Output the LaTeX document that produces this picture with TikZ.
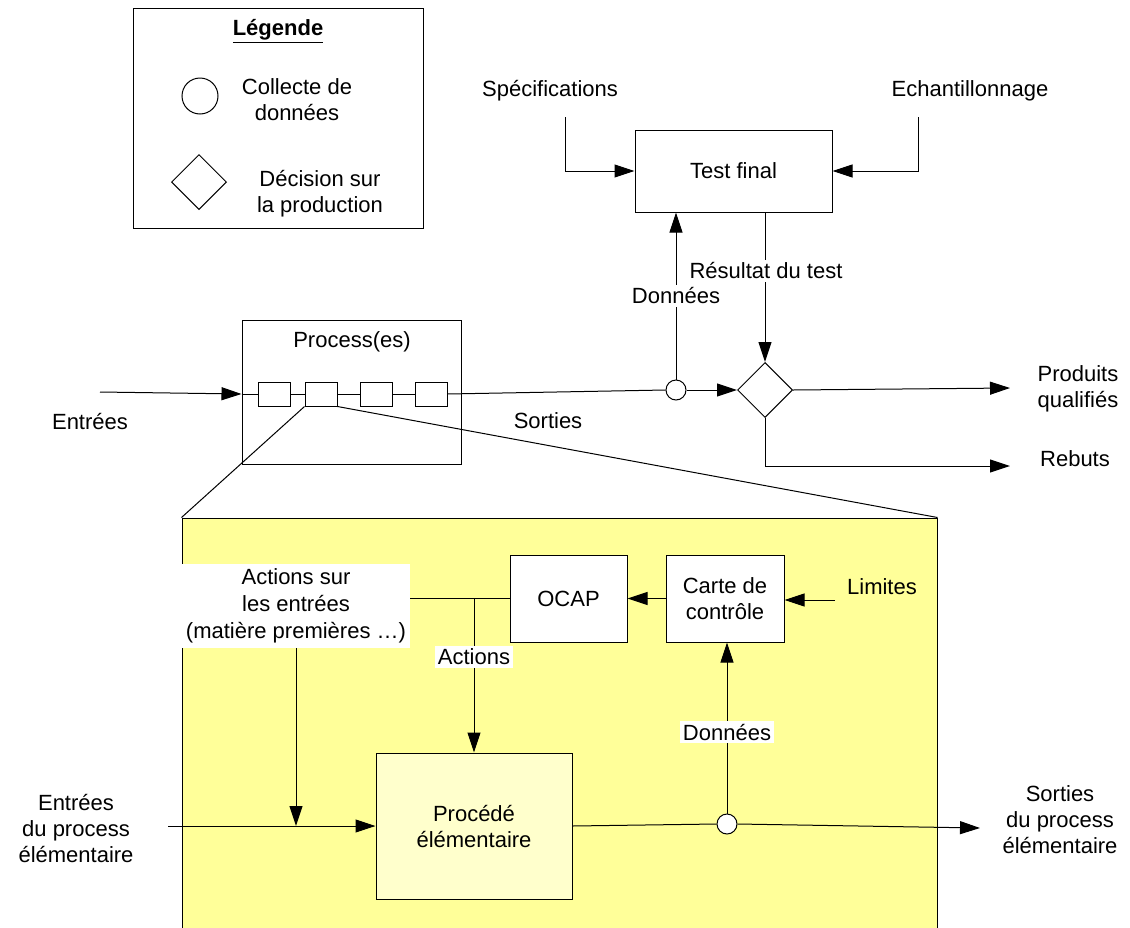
\documentclass[tikz,border=0pt]{standalone}
\usepackage{fontspec}
\setmainfont{Liberation Sans}
\usetikzlibrary{shapes.geometric,arrows.meta}
\definecolor{ylw}{RGB}{255,255,153}
\definecolor{ylwlight}{RGB}{255,255,204}
\begin{document}
\begin{tikzpicture}[x=1pt,y=-1pt,
  every node/.style={font=\fontsize{22}{26}\selectfont, align=center, inner sep=0pt},
  line/.style={line width=1pt},
  arr/.style={line width=1pt, -{Triangle[length=20pt,width=13pt]}},
  box/.style={draw, line width=1pt, rectangle},
  smallbox/.style={draw, line width=1pt, fill=white, minimum width=32pt, minimum height=24pt},
  dot/.style={draw, line width=1pt, circle, fill=white, minimum size=20pt},
  dec/.style={draw, line width=1pt, diamond, fill=white, minimum width=55pt, minimum height=55pt},
  whitelab/.style={fill=white, inner sep=3pt}
]
\useasboundingbox (0,0) rectangle (1130,927);
\fill[white] (0,0) rectangle (1130,927);

% Legend
\node[box, minimum width=290pt, minimum height=220pt] (legend) at (278,118) {};
\node (legtitle) at (278,31) {\textbf{\underline{Légende}}};
\node[draw, line width=1pt, circle, minimum size=36pt] (legcirc) at (200,96) {};
\node (legcirctxt) at (297,100) {Collecte de\\données};
\node[draw, line width=1pt, diamond, minimum width=55pt, minimum height=55pt] (legdiam) at (199,182) {};
\node (legdiamtxt) at (320,194) {Décision sur\\la production};

% Test final
\node[box, minimum width=197pt, minimum height=82pt] (test) at (733.5,171) {Test final};
\node (spec) at (550,91) {Spécifications};
\node (echan) at (970,91) {Echantillonnage};
\coordinate (specend) at (565,117);
\coordinate (echanend) at (918,117);
\draw[arr] (specend) |- (test.west);
\draw[arr] (echanend) |- (test.east);

% Process box
\node[box, minimum width=219pt, minimum height=144pt] (proc) at (351.5,392) {};
\node (proctitle) at (352,342) {Process(es)};
\node[smallbox] (p1) at (274,394) {};
\node[smallbox] (p2) at (321,394) {};
\node[smallbox] (p3) at (376,394) {};
\node[smallbox] (p4) at (431,394) {};
\draw[line] (p1) -- (p2) -- (p3) -- (p4);
\coordinate (ein) at (100,392);
\draw[arr] (ein) -- (proc.west |- p1.west);
\draw[line] (proc.west |- p1.west) -- (p1.west);
\node (entrees) at (90,422) {Entrées};
\node (sorties) at (548,421) {Sorties};

% Data collection and decision
\node[dot] (c1) at (676,390) {};
\node[dec] (d1) at (765,390) {};
\draw[line] (p4.east) -- (c1.west);
\draw[arr] (c1.east) -- (d1.west);
\draw[arr] (c1.north) -- (c1.north |- test.south);
\draw[arr] (d1.north |- test.south) -- (d1.north);
\node[whitelab] (donnees1) at (676,296) {Données};
\node[whitelab] (resultat) at (766,271) {Résultat du test};
\coordinate (prodend) at (1010,388);
\coordinate (rebend) at (1010,466);
\draw[arr] (d1.east) -- (prodend);
\draw[arr] (d1.south) |- (rebend);
\node (produits) at (1078,389) {Produits\\qualifiés};
\node (rebuts) at (1075,459) {Rebuts};

% Zoomed area
\node[draw, line width=1pt, fill=ylw, minimum width=755pt, minimum height=422pt] (zoom) at (559.5,729) {};
\draw[line] (p2.south west) -- (zoom.north west);
\draw[line] (p2.south east) -- (zoom.north east);

\node[box, fill=white, minimum width=117pt, minimum height=87pt] (ocap) at (568.5,598.5) {OCAP};
\node[box, fill=white, minimum width=118pt, minimum height=87pt] (carte) at (725,598.5) {Carte de\\contrôle};
\node (limites) at (882,587) {Limites};
\coordinate (limend) at (835,600);
\draw[arr] (limend) -- (carte.east |- limend);
\draw[arr] (carte.west) -- (ocap.east);

\node[fill=white, minimum width=228pt, minimum height=84pt, font=\fontsize{22}{27}\selectfont] (actlab) at (296,606) {Actions sur\\les entrées\\(matière premières …)};
\node[box, fill=ylwlight, minimum width=196pt, minimum height=146pt] (proc2) at (474,826) {Procédé\\élémentaire};
\draw[line] (ocap.west) -- (actlab.east |- ocap.west);
\draw[arr] (ocap.west -| proc2.north) -- (proc2.north);
\node[whitelab] (actions) at (474,657) {Actions};
\coordinate (ein2) at (168,826);
\draw[arr] (ein2) -- (proc2.west);
\draw[arr] (actlab.south) -- (actlab.south |- proc2.west);

\node[dot] (c2) at (727,824) {};
\draw[line] (proc2.east) -- (c2.west);
\coordinate (sout2) at (980,828);
\draw[arr] (c2.east) -- (sout2);
\draw[arr] (c2.north) -- (c2.north |- carte.south);
\node[whitelab] (donnees2) at (727,732) {Données};

\node (entrees2) at (76,828) {Entrées\\du process\\élémentaire};
\node (sorties2) at (1060,820) {Sorties\\du process\\élémentaire};
\end{tikzpicture}
\end{document}
